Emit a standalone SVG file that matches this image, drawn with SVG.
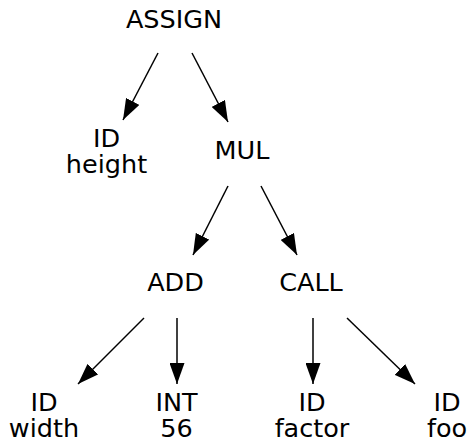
<svg xmlns="http://www.w3.org/2000/svg" width="468" height="442" viewBox="0 0 468 442">
<style>
text{font-family:"DejaVu Sans","Liberation Sans",sans-serif;font-size:25.5px;fill:#000;text-anchor:middle}
.e line{stroke:#000;stroke-width:1.5;marker-end:url(#ah)}
</style>
<defs>
<marker id="ah" markerUnits="userSpaceOnUse" markerWidth="21" markerHeight="15" refX="21" refY="7.5" orient="auto" viewBox="0 0 21 15">
<path d="M0,0 L21,7.5 L0,15 z" fill="#000"/>
</marker>
</defs>
<rect width="468" height="442" fill="#fff"/>
<g id="n-assign"><text x="174" y="28">ASSIGN</text></g>
<g id="n-id-height"><text x="106.5" y="147">ID</text><text x="106.5" y="173">height</text></g>
<g id="n-mul"><text x="242" y="159">MUL</text></g>
<g id="n-add"><text x="175.5" y="291">ADD</text></g>
<g id="n-call"><text x="311" y="291">CALL</text></g>
<g id="n-id-width"><text x="44" y="411">ID</text><text x="44" y="437">width</text></g>
<g id="n-int-56"><text x="176.5" y="411">INT</text><text x="176.5" y="437">56</text></g>
<g id="n-id-factor"><text x="312" y="411">ID</text><text x="312" y="437">factor</text></g>
<g id="n-id-foo"><text x="447" y="411">ID</text><text x="447" y="437">foo</text></g>
<g id="edges" class="e">
<line x1="158" y1="53" x2="123" y2="120"/>
<line x1="192" y1="53" x2="228" y2="122"/>
<line x1="228" y1="186" x2="193" y2="255"/>
<line x1="261" y1="186" x2="297" y2="255"/>
<line x1="144" y1="318" x2="78" y2="384"/>
<line x1="177" y1="318" x2="177" y2="384"/>
<line x1="313" y1="318" x2="313" y2="384"/>
<line x1="347" y1="318" x2="415" y2="384"/>
</g>
</svg>
